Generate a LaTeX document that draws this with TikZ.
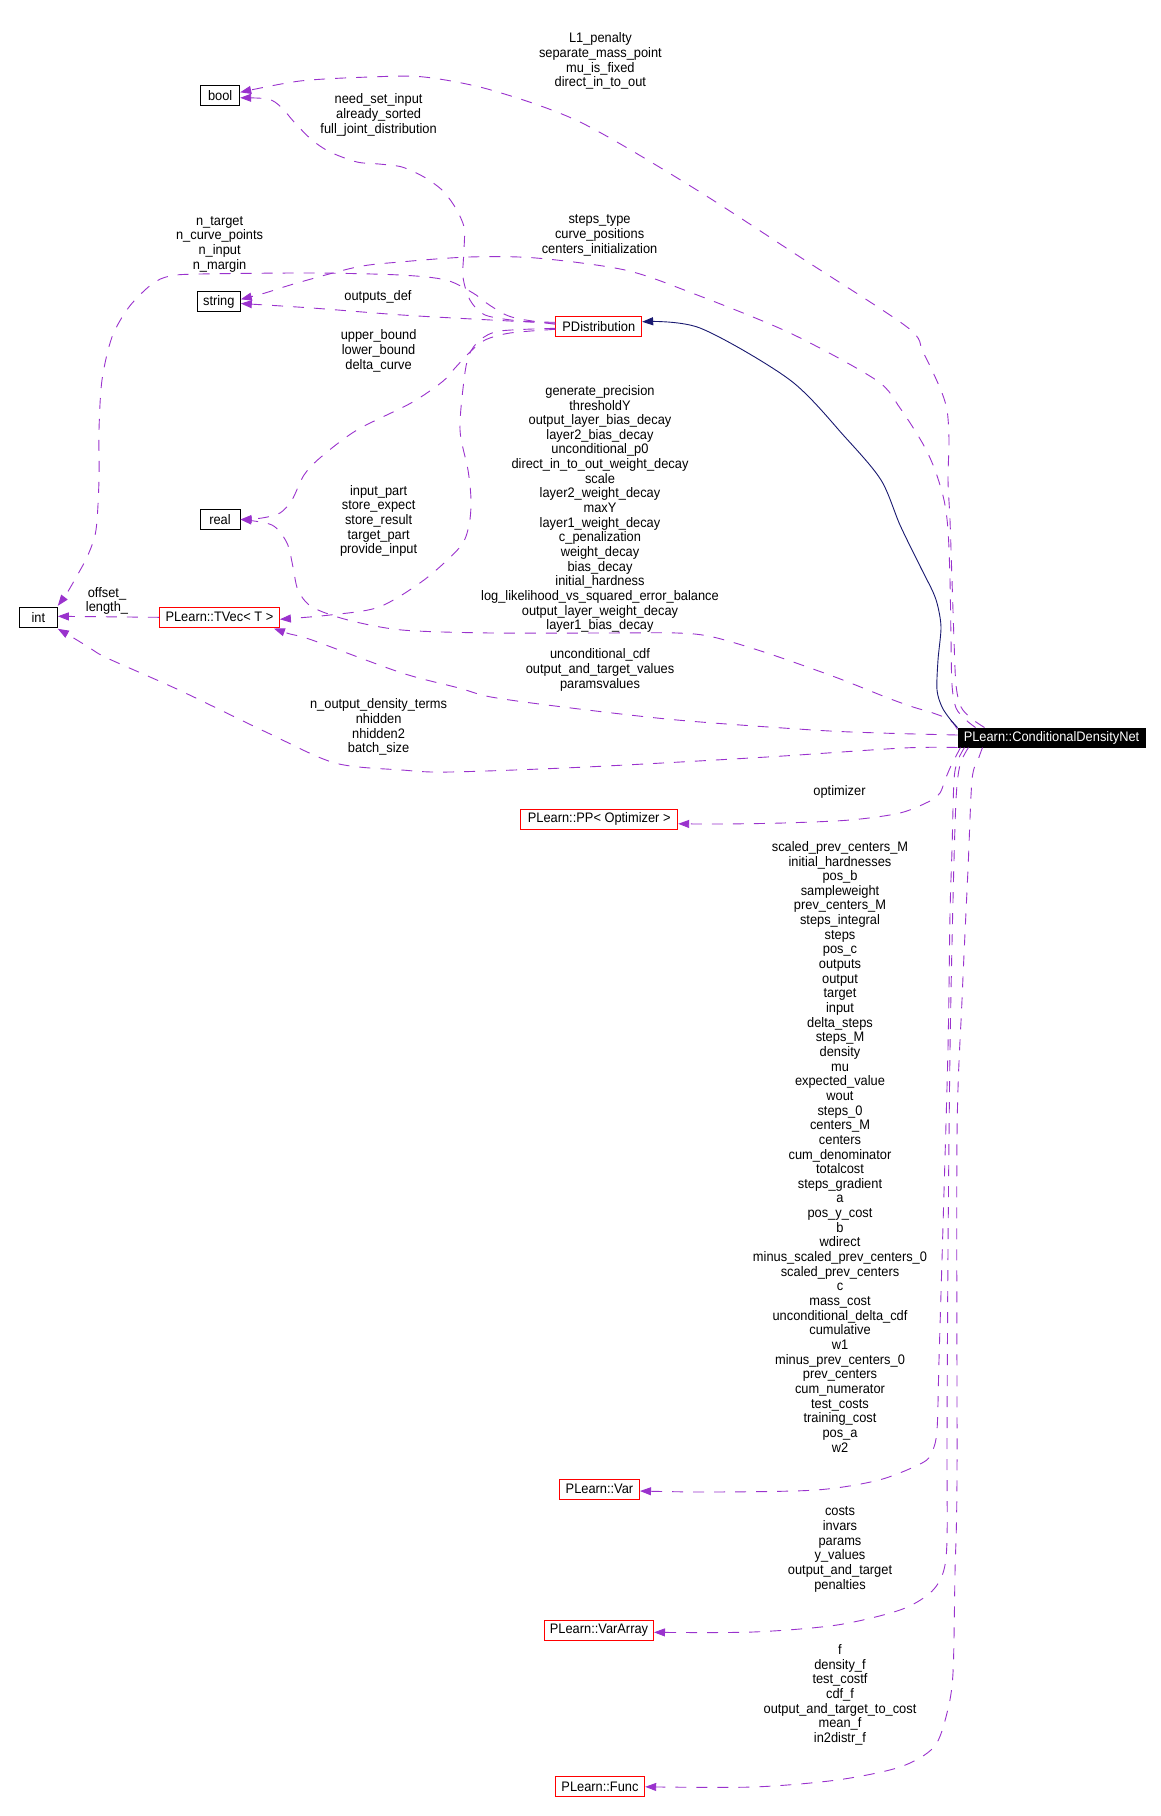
\documentclass[tikz,border=0pt]{standalone}
\usepackage{fontspec}
\setmainfont{Liberation Sans}[FakeStretch=0.93]
\usetikzlibrary{arrows.meta,calc}
\definecolor{depc}{HTML}{9A32CD}
\definecolor{inhc}{HTML}{191970}
\newcommand\dgfont{\fontsize{13.8}{14.65}\selectfont}
\tikzset{
  box/.style={draw, line width=1pt, inner sep=0pt, minimum height=20pt, font=\dgfont},
  blk/.style={box, draw=black},
  cls/.style={box, draw=red},
  lbl/.style={align=center, inner sep=0pt, font=\dgfont},
  dep/.style={draw=depc, line width=0.9pt, dash pattern=on 11pt off 10pt, -{Triangle[length=11pt,width=8pt]}},
  inh/.style={draw=inhc, line width=0.9pt, -{Triangle[length=11pt,width=8pt]}}
}
\begin{document}
\begin{tikzpicture}[x=1pt,y=-1pt]
\useasboundingbox (0,0) rectangle (1161,1816);
% nodes
\node[box, fill=black, text=white, minimum width=187pt, minimum height=19pt] (cdn) at (1051.5,737.5) {PLearn::ConditionalDensityNet};
\node[blk, minimum width=39pt] (bool) at (220.2,95.3) {bool};
\node[blk, minimum width=43pt] (string) at (218.8,301.5) {string};
\node[cls, minimum width=85.7pt] (pd) at (598.8,326.3) {PDistribution};
\node[blk, minimum width=40pt] (real) at (220,519.5) {real};
\node[blk, minimum width=38pt] (int) at (38.3,617.3) {int};
\node[cls, minimum width=120pt] (tvec) at (219.4,617.3) {PLearn::TVec< T >};
\node[cls, minimum width=157pt] (pp) at (599.2,819.3) {PLearn::PP< Optimizer >};
\node[cls, minimum width=80pt] (var) at (599.5,1489) {PLearn::Var};
\node[cls, minimum width=109pt] (vararray) at (599,1630.5) {PLearn::VarArray};
\node[cls, minimum width=89.4pt] (func) at (600,1786.3) {PLearn::Func};
% labels
\node[lbl] (l1) at (600.4,61.3) {L1\_penalty\\separate\_mass\_point\\mu\_is\_fixed\\direct\_in\_to\_out};
\node[lbl] (lneed) at (378.6,115) {need\_set\_input\\already\_sorted\\full\_joint\_distribution};
\node[lbl] (lntarget) at (219.6,244) {n\_target\\n\_curve\_points\\n\_input\\n\_margin};
\node[lbl] (lsteps) at (599.6,235.4) {steps\_type\\curve\_positions\\centers\_initialization};
\node[lbl] (loutdef) at (378,297.3) {outputs\_def};
\node[lbl] (lupper) at (378.6,351) {upper\_bound\\lower\_bound\\delta\_curve};
\node[lbl] (lgen) at (600,509) {generate\_precision\\thresholdY\\output\_layer\_bias\_decay\\layer2\_bias\_decay\\unconditional\_p0\\direct\_in\_to\_out\_weight\_decay\\scale\\layer2\_weight\_decay\\maxY\\layer1\_weight\_decay\\c\_penalization\\weight\_decay\\bias\_decay\\initial\_hardness\\log\_likelihood\_vs\_squared\_error\_balance\\output\_layer\_weight\_decay\\layer1\_bias\_decay};
\node[lbl] (linput) at (378.6,521) {input\_part\\store\_expect\\store\_result\\target\_part\\provide\_input};
\node[lbl] (loffset) at (107,601) {offset\_\\length\_};
\node[lbl] (luncond) at (600,670) {unconditional\_cdf\\output\_and\_target\_values\\paramsvalues};
\node[lbl] (lnout) at (378.6,727.3) {n\_output\_density\_terms\\nhidden\\nhidden2\\batch\_size};
\node[lbl] (lopt) at (839.5,791.5) {optimizer};
\node[lbl] (lvar) at (840,1146.7) {scaled\_prev\_centers\_M\\initial\_hardnesses\\pos\_b\\sampleweight\\prev\_centers\_M\\steps\_integral\\steps\\pos\_c\\outputs\\output\\target\\input\\delta\_steps\\steps\_M\\density\\mu\\expected\_value\\wout\\steps\_0\\centers\_M\\centers\\cum\_denominator\\totalcost\\steps\_gradient\\a\\pos\_y\_cost\\b\\wdirect\\minus\_scaled\_prev\_centers\_0\\scaled\_prev\_centers\\c\\mass\_cost\\unconditional\_delta\_cdf\\cumulative\\w1\\minus\_prev\_centers\_0\\prev\_centers\\cum\_numerator\\test\_costs\\training\_cost\\pos\_a\\w2};
\node[lbl] (lvararray) at (840,1549.5) {costs\\invars\\params\\y\_values\\output\_and\_target\\penalties};
\node[lbl] (lfunc) at (840,1695) {f\\density\_f\\test\_costf\\cdf\_f\\output\_and\_target\_to\_cost\\mean\_f\\in2distr\_f};
% anchor coordinates
\coordinate (boolA) at ($(bool.east)+(0,-3)$);
\coordinate (boolB) at ($(bool.east)+(0,2.5)$);
\coordinate (strA) at ($(string.east)+(0,-2.2)$);
\coordinate (strB) at ($(string.east)+(0,2)$);
\coordinate (pdW1) at ($(pd.west)+(0,-4)$);
\coordinate (pdW2) at ($(pd.west)+(0,-3)$);
\coordinate (pdW3) at ($(pd.west)+(0,-2)$);
\coordinate (pdW4) at ($(pd.west)+(0,3)$);
\coordinate (pdW5) at ($(pd.west)+(0,2)$);
\coordinate (pdE) at ($(pd.east)+(0,-4.5)$);
\coordinate (intN) at ($(int.north east)+(0,-1)$);
\coordinate (intE) at ($(int.east)+(0,-1)$);
\coordinate (intS) at ($(int.south east)+(0,1)$);
\coordinate (tvE) at ($(tvec.east)+(0,2)$);
\coordinate (tvS) at ($(tvec.south east)+(-6,0.7)$);
\coordinate (ppE) at ($(pp.east)+(0,4.5)$);
\coordinate (varE) at ($(var.east)+(0,2)$);
\coordinate (vaE) at ($(vararray.east)+(0,1.8)$);
\coordinate (fuE) at ($(func.east)+(0,0.5)$);
\coordinate (cT1) at ($(cdn.north west)+(27,0)$);
\coordinate (cT2) at ($(cdn.north west)+(18,0)$);
\coordinate (cTL) at ($(cdn.north west)+(0,2)$);
\coordinate (cL1) at ($(cdn.west)+(0,-2.5)$);
\coordinate (cB1) at ($(cdn.south west)+(3,0)$);
\coordinate (cB2) at ($(cdn.south west)+(7,0)$);
\coordinate (cB3) at ($(cdn.south west)+(11,0)$);
\coordinate (cB4) at ($(cdn.south west)+(25,0)$);
% edges from ConditionalDensityNet
\draw[dep] plot[smooth] coordinates {(cT1) (972,719) (961,707) (956,685) (954,640) (952,580) (950,520) (948,480) (949,440) (947,410) (940,388) (923,352) (907,327) (800,257) (692,187) (580,122) (491,90) (424,77) (370,77) (300,81) (boolA)};
\draw[dep] plot[smooth] coordinates {(cT2) (966,720) (956,708) (952,685) (951,640) (950,580) (948,530) (944,500) (935,470) (923,444) (900,408) (876,380) (790,333) (692,293) (625,270) (536,258) (469,257) (400,262) (357,267) (297,283) (265,293) (strA)};
\draw[dep] plot[smooth] coordinates {(cTL) (950,720) (933,713) (913,707) (888,698) (835,677) (767,653) (713,637) (677,633) (600,633) (491,633) (402,630) (348,620) (312,607) (298,590) (293,567) (287,543) (272,525) (real.east)};
\draw[dep] plot[smooth] coordinates {(cL1) (880,733) (813,730) (677,720) (563,707) (491,697) (459,688) (402,673) (312,640) (290,634) (tvS)};
\draw[dep] plot[smooth] coordinates {(cdn.south west) (903,748) (767,757) (586,767) (450,772) (402,770) (335,763) (268,733) (179,690) (107,658) (90,648) (72,637) (intS)};
\draw[dep] plot[smooth] coordinates {(cB1) (955,758) (950,768) (945,780) (940,793) (930,801) (900,813) (850,820) (783,823) (720,824) (ppE)};
\draw[dep] plot[smooth] coordinates {(cB2) (958,760) (954,780) (952,850) (950,914) (948,1048) (943,1226) (939,1360) (937,1430) (932,1452) (922,1463) (879,1480) (816,1490) (711,1492) (varE)};
\draw[dep] plot[smooth] coordinates {(cB3) (960,765) (956,800) (953,900) (950,1050) (948,1250) (947,1440) (947,1540) (943,1573) (930,1593) (900,1610) (837,1625) (753,1632) (vaE)};
\draw[dep] plot[smooth] coordinates {(cB4) (978,760) (972,780) (968,869) (962,1000) (957,1137) (957,1476) (955,1573) (953,1673) (947,1713) (934,1747) (900,1767) (837,1780) (753,1787) (fuE)};
% edges from PDistribution
\draw[dep] plot[smooth] coordinates {(pdW1) (520,321) (485,315) (470,300) (463,277) (464,250) (464,227) (455,207) (442,190) (424,177) (402,167) (379,164) (357,162) (330,152) (312,140) (295,123) (281,107) (268,99) (boolB)};
\draw[dep] plot[smooth] coordinates {(pdW2) (491,320) (402,315) (312,308) (strB)};
\draw[dep] plot[smooth] coordinates {(pdW3) (520,319) (504,314) (485,302) (473,293) (446,280) (400,275) (312,273) (200,274) (170,276) (152,284) (129,307) (112,337) (102,380) (99,430) (99,480) (96,530) (88,555) (78,574) (67,593) (intN)};
\draw[dep] plot[smooth] coordinates {(pdW4) (510,333) (485,340) (470,352) (455,368) (442,382) (411,403) (357,430) (321,457) (304,475) (292,500) (280,513) (262,518) (real.east)};
\draw[dep] plot[smooth] coordinates {(pdW5) (500,331) (480,340) (469,355) (464,380) (460,430) (468,470) (471,500) (469,525) (460,547) (424,580) (379,607) (330,615) (tvE)};
% TVec to int
\draw[dep] (tvec.west) -- (intE);
% inheritance
\draw[inh] plot[smooth] coordinates {(cdn.north west) (950,719) (942,707) (937,690) (938,660) (941,628) (938,607) (933,592) (920,566) (900,525) (881,480) (845,437) (790,380) (700,328) (pdE)};
\end{tikzpicture}
\end{document}
